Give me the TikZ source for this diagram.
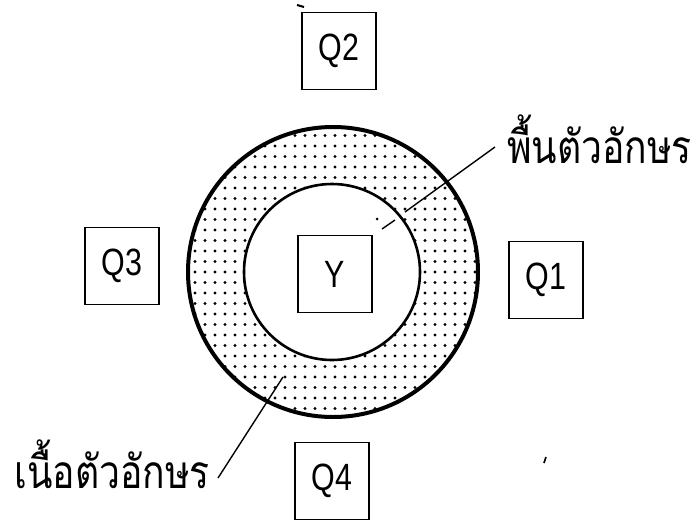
\documentclass[tikz,border=0pt]{standalone}
\usepackage{fontspec}
\newfontfamily\thaifont[Script=Thai,FakeStretch=0.81]{Loma}
\newfontfamily\qfont[FakeStretch=0.8]{Liberation Sans}
\begin{document}
\begin{tikzpicture}[x=1pt,y=-1pt,
  qbox/.style={draw,line width=1.8pt,minimum width=74pt,minimum height=77pt,inner sep=0pt,
    font=\qfont\fontsize{38}{38}\selectfont},
  thailabel/.style={inner sep=0pt,font=\thaifont\fontsize{46}{46}\selectfont},
  leader/.style={line width=1.4pt}]
\useasboundingbox (0,0) rectangle (699,522);
\fill[white] (0,0) rectangle (699,522);
% stippled ring
\begin{scope}[even odd rule]
  \clip (333,272) circle (145) (333,272) circle (88);
  \foreach \x in {185,195,...,485} {
    \foreach \y in {125,135.5,...,425} {
      \fill (\x,\y) circle (1.7);
    }
  }
\end{scope}
\node[circle,draw,line width=4pt,minimum size=290pt,inner sep=0pt] (outer) at (333,272) {};
\node[circle,draw,line width=2.6pt,minimum size=176pt,inner sep=0pt] (inner) at (332,272) {};
% boxes
\node[qbox] (y) at (335,274) {Y};
\node[qbox] (q2) at (339,51) {Q2};
\node[qbox] (q3) at (122,266) {Q3};
\node[qbox] (q1) at (546,280) {Q1};
\node[qbox] (q4) at (332,481) {Q4};
% labels
\node[thailabel,anchor=base west] (bg) at (507,163) {พื้นตัวอักษร};
\node[thailabel,anchor=base east] (body) at (210,488) {เนื้อตัวอักษร};
\coordinate (bgend) at (405,212);
\coordinate (bgstart) at (495,147);
\coordinate (bodyend) at (283,377);
\coordinate (bodystart) at (218,478);
\draw[leader] (bgstart) -- (bgend);
\draw[leader] (382,229) -- (395,220);
\fill (377,219) circle (1.5);
\draw[leader] (bodystart) -- (bodyend);
% small stray marks of the original
\draw[line width=2pt] (297,5) -- (304,7);
\draw[line width=1.6pt] (546,457) -- (544,463);
\end{tikzpicture}
\end{document}
